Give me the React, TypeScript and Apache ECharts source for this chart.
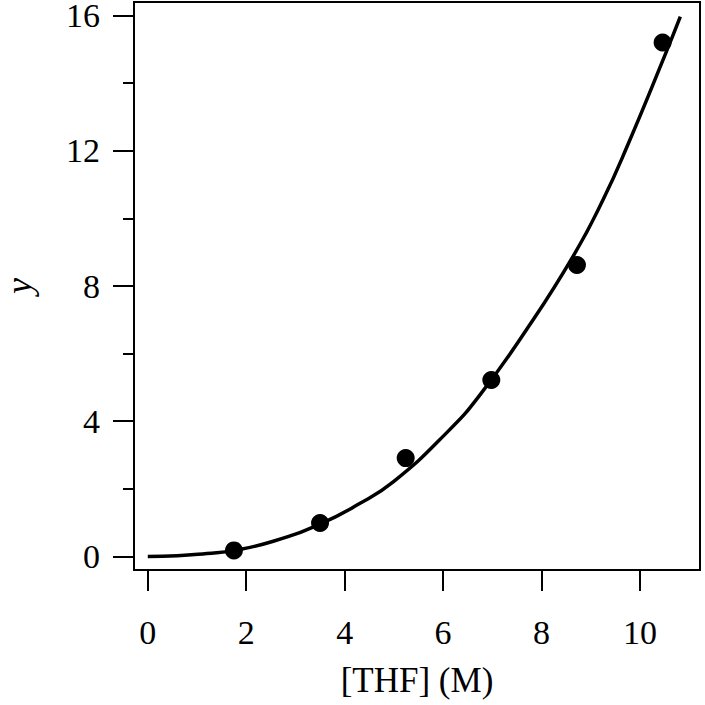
import React, { useEffect, useRef } from "react";
import * as echarts from "echarts";

const pointX = [1.75, 3.5, 5.24, 6.98, 8.72, 10.46];
const pointY = [0.18, 0.99, 2.91, 5.22, 8.62, 15.2];

const curveX = [0, 0.6, 1.2, 1.75, 2.55, 3.5, 4.25, 5.0, 6.1, 6.75, 7.7, 8.65, 9.25, 9.76, 10.5, 10.82];
const curveY = [0, 0.02, 0.09, 0.18, 0.45, 0.96, 1.52, 2.22, 3.7, 4.78, 6.72, 8.9, 10.55, 12.2, 14.8, 15.97];

const xTicks = [0, 2, 4, 6, 8, 10];
const yMajorTicks = [0, 4, 8, 12, 16];
const yMinorTicks = [2, 6, 10, 14];

const FONT = "Liberation Serif";

export default function App() {
  const ref = useRef<HTMLDivElement>(null);
  useEffect(() => {
    if (!ref.current) return;
    const chart = echarts.init(ref.current, undefined, { renderer: "svg" });
    const labelStyle = { color: "#000", fontFamily: FONT, fontSize: 34 };
    chart.setOption({
      animation: false,
      backgroundColor: "#fff",
      grid: {
        left: 134,
        right: 5,
        top: 2,
        bottom: 135,
        containLabel: false,
        outerBoundsMode: "none",
        show: true,
        borderColor: "#000",
        borderWidth: 2,
        backgroundColor: "transparent",
      },
      xAxis: {
        type: "value",
        min: -0.28,
        max: 11.22,
        name: "[THF] (M)",
        nameLocation: "middle",
        nameGap: 93,
        nameTextStyle: { ...labelStyle, fontSize: 35 },
        axisLine: { show: true, onZero: false, lineStyle: { color: "#000", width: 2 } },
        axisTick: { show: true, customValues: xTicks, length: 21, lineStyle: { color: "#000", width: 2 } },
        axisLabel: { show: true, customValues: xTicks, margin: 45, ...labelStyle },
        splitLine: { show: false },
      },
      yAxis: [
        {
          type: "value",
          min: -0.4,
          max: 16.4,
          position: "left",
          name: "y",
          nameLocation: "middle",
          nameGap: 100,
          nameTextStyle: { ...labelStyle, fontSize: 36, fontStyle: "italic", lineHeight: 30 },
          axisLine: { show: true, onZero: false, lineStyle: { color: "#000", width: 2 } },
          axisTick: { show: true, customValues: yMajorTicks, length: 21, lineStyle: { color: "#000", width: 2 } },
          axisLabel: { show: true, customValues: yMajorTicks, margin: 34, lineHeight: 28, ...labelStyle },
          splitLine: { show: false },
        },
        {
          type: "value",
          min: -0.4,
          max: 16.4,
          position: "left",
          axisLine: { show: false, onZero: false },
          axisTick: { show: true, customValues: yMinorTicks, length: 11, lineStyle: { color: "#000", width: 2 } },
          axisLabel: { show: false },
          splitLine: { show: false },
        },
      ],
      series: [
        {
          type: "line",
          data: curveX.map((x, i) => [x, curveY[i]]),
          smooth: true,
          showSymbol: false,
          symbol: "none",
          lineStyle: { color: "#000", width: 3.5 },
          z: 2,
        },
        {
          type: "scatter",
          data: pointX.map((x, i) => [x, pointY[i]]),
          symbol: "circle",
          symbolSize: 18,
          itemStyle: { color: "#000", opacity: 1 },
          z: 3,
        },
      ],
    });
    return () => chart.dispose();
  }, []);
  return <div ref={ref} style={{ position: "fixed", left: 0, top: 0, width: 705, height: 705 }} />;
}
